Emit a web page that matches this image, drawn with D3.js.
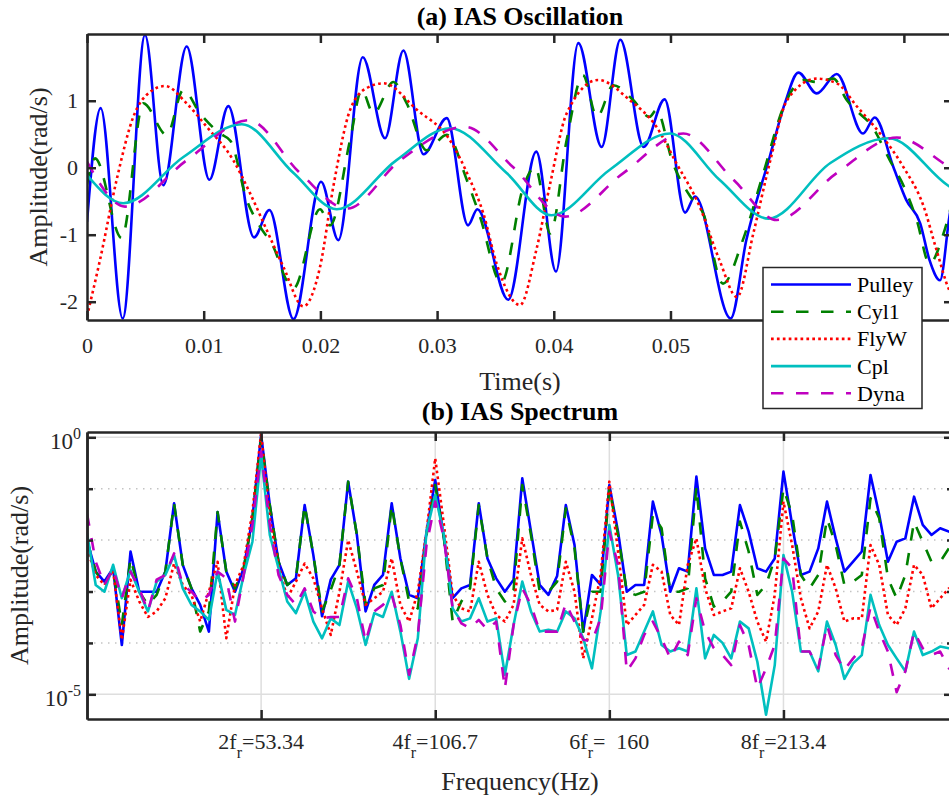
<!DOCTYPE html>
<html><head><meta charset="utf-8">
<script src="https://cdn.jsdelivr.net/npm/d3@7"></script>
<style>
body{margin:0;background:#fff;}
text{font-family:"Liberation Serif","Times New Roman",serif;}
</style>
</head><body>
<svg id="c" width="949" height="801"></svg>
<script>
// ---------------- DATA ----------------
const seriesNames = ["Pulley", "Cyl1", "FlyW", "Cpl", "Dyna"];

// (a) IAS Oscillation : time (ms) / amplitude (rad/s), key points
const pulleyTms = [0,1.17,3.06,4.97,6.54,8.54,10.49,12.11,14.31,15.63,17.69,20.06,21.54,23.63,25.54,27.11,28.83,30.83,32.65,33.45,36.1,38.5,40.19,42.1,44.1,45.7,47.7,49.5,51.25,52.1,55.16,56.5,58.5,59.8,60.96,62.53,64.25,66.5,67.5,69.1,70.2,71.4,72.2,73.1,73.9,74.3];
const pulleyV   = [-0.81,0.89,-2.25,1.98,-0.26,1.81,-0.18,0.92,-1.04,-0.63,-2.26,-0.21,-1.08,1.65,0.44,1.75,0.20,0.74,-0.86,-0.62,-1.97,0.24,-1.55,1.86,0.31,1.91,0.31,1.02,-0.67,-0.43,-2.25,-1.08,0.16,0.96,1.42,1.11,1.40,0.51,0.75,0.01,-0.48,-0.83,-1.38,-1.68,-0.73,-0.30];

const cyl1Tms = [0,0.69,2.97,4.83,6.83,8.26,9.69,11.4,12.3,13.69,14.83,15.97,17.1,17.69,19.97,20.83,22.54,23.54,24.54,26.26,27.4,29.11,30.83,32.54,33.68,35.5,37.4,38.4,39.7,41.1,42.5,43.7,45.1,46.8,48.2,48.8,50.2,51.7,52.8,54.5,56.2,57.96,59.7,61.4,62.5,63.96,65.1,66.2,67.1,68.8,70.0,71.1,72.2,73.4,74.3];
const cyl1V   = [-0.25,0.14,-1.05,0.96,0.49,1.16,0.81,0.51,0.40,-0.48,-0.88,-1.18,-1.68,-1.80,-0.62,-0.86,0.41,1.16,0.81,1.28,0.96,0.26,0.49,-0.18,-0.73,-1.72,-0.28,0.01,-0.98,0.41,1.38,0.76,1.23,1.01,0.76,0.86,0.07,-0.43,-0.68,-1.73,-1.08,-0.08,0.91,1.31,1.28,1.33,1.01,0.81,0.66,0.11,-0.28,-0.78,-1.43,-0.98,-0.40];

const flywTms = [0,1.11,2.54,3.97,5.4,6.69,8.54,10.26,12.54,13.97,15.4,16.83,18.54,19.97,21.11,22.54,23.97,25.4,28.3,31.1,32.82,33.96,35.1,37.1,38.5,39.7,41.1,43.8,46.5,48.8,50.5,52.5,54.2,55.7,57.1,58.5,60.0,62.5,64.25,66.0,67.96,69.96,71.7,72.8,73.9,74.3];
const flywV   = [-2.22,-1.38,-0.18,0.76,1.13,1.22,0.96,0.61,0.11,-0.38,-0.93,-1.48,-2.07,-1.48,-0.28,0.86,1.19,1.26,0.86,0.41,-0.18,-0.68,-1.43,-2.05,-1.23,-0.23,0.81,1.31,1.01,0.61,0.07,-0.58,-1.38,-1.93,-0.98,0.07,1.01,1.33,1.26,0.91,0.51,0.01,-0.58,-1.23,-1.83,-1.95];

const cplTms = [0,3.11,8.26,13.26,17.7,21.4,26.5,31.1,35.96,39.8,44.8,49.96,54.2,58.4,63.7,68.7,73.9,74.3];
const cplV   = [-0.11,-0.53,0.16,0.65,-0.08,-0.62,0.11,0.59,-0.08,-0.71,-0.03,0.51,-0.18,-0.76,0.07,0.44,-0.28,-0.32];

const dynaTms = [0,3.26,8.54,13.83,18.26,22.26,26.83,32.4,36.5,40.96,45.96,51.1,55.4,59.1,64.25,69.4,73.9,74.3];
const dynaV   = [0.09,-0.58,0.11,0.71,-0.08,-0.61,0.11,0.61,0.01,-0.73,-0.08,0.51,-0.18,-0.78,-0.08,0.45,0.01,-0.03];

const timeTicks = [0, 0.01, 0.02, 0.03, 0.04, 0.05, 0.06, 0.07];
const timeTickLabels = ["0", "0.01", "0.02", "0.03", "0.04", "0.05", "", ""]; // 0.06/0.07 hidden by legend
const ampTicks = [-2, -1, 0, 1];

// (b) IAS Spectrum : frequency grid (Hz), step fr/10
const fr = 26.67;
const freqStep = 2.667;
const pulleySpec = [0.0100,0.00244,0.00156,0.00283,0.000091,0.0060,0.00099,0.00099,0.00099,0.00244,
0.052,0.0033,0.00115,0.00055,0.000166,0.035,0.00244,0.00099,0.00283,0.0265,
1.11,0.048,0.0038,0.00134,0.00181,0.048,0.0051,0.00033,0.0017,0.0033,
0.137,0.0126,0.00041,0.00134,0.0021,0.052,0.0044,0.00086,0.00074,0.0146,
0.148,0.0108,0.00074,0.00115,0.00134,0.052,0.0044,0.0018,0.00099,0.0017,
0.159,0.0146,0.00134,0.00086,0.0020,0.048,0.0080,0.000166,0.0021,0.00134,
0.118,0.0146,0.00099,0.00134,0.00134,0.056,0.0126,0.00099,0.00283,0.00244,
0.172,0.0069,0.0021,0.0021,0.00244,0.048,0.0146,0.00283,0.00244,0.0044,
0.215,0.0197,0.0021,0.00244,0.0069,0.056,0.0108,0.00244,0.0038,0.0060,
0.185,0.031,0.0038,0.0093,0.0108,0.070,0.0197,0.0126,0.017,0.0146,0.0146];
const cyl1Spec = [0.0100,0.00244,0.00134,0.00283,0.000223,0.0044,0.00099,0.00055,0.00086,0.00244,
0.052,0.0033,0.00115,0.000166,0.00041,0.035,0.00244,0.00115,0.00283,0.0265,
0.96,0.048,0.0038,0.00134,0.00181,0.048,0.0051,0.00041,0.00107,0.0033,
0.137,0.0126,0.00055,0.00115,0.00134,0.048,0.0044,0.00064,0.00047,0.0126,
0.118,0.0108,0.00026,0.00064,0.00115,0.048,0.0044,0.00115,0.00064,0.00107,
0.118,0.0126,0.00099,0.00099,0.00156,0.0416,0.0069,0.000166,0.00099,0.00099,
0.102,0.0126,0.00099,0.00086,0.00099,0.031,0.017,0.00099,0.00099,0.00115,
0.11,0.00181,0.00051,0.00064,0.00099,0.0229,0.0060,0.00086,0.00134,0.0044,
0.102,0.031,0.0021,0.00115,0.0021,0.0265,0.0080,0.00134,0.00156,0.0021,
0.065,0.0265,0.00181,0.00074,0.0021,0.0229,0.0093,0.0038,0.0038,0.0069,0.0080];
const flywSpec = [0.0069,0.0021,0.00134,0.0026,0.000115,0.0017,0.00064,0.00032,0.00041,0.00074,
0.0035,0.00134,0.00086,0.00026,0.00099,0.0038,0.000123,0.00134,0.0033,0.036,
1.2,0.0265,0.0033,0.00074,0.00156,0.0035,0.0018,0.00047,0.000143,0.00099,
0.0100,0.00244,0.00055,0.00074,0.00099,0.0044,0.00055,0.00026,0.00099,0.0146,
0.39,0.0197,0.00086,0.00047,0.00041,0.0038,0.00086,0.00035,0.00026,0.00055,
0.0108,0.0021,0.00055,0.00041,0.00044,0.0038,0.00099,0.00005,0.0003,0.0021,
0.137,0.006,0.000223,0.00035,0.00055,0.0033,0.00244,0.00035,0.000223,0.0033,
0.0108,0.00115,0.00035,0.00041,0.00047,0.00283,0.00099,0.00026,0.000106,0.00086,
0.056,0.008,0.00074,0.000192,0.00041,0.0033,0.00115,0.00026,0.0003,0.0003,
0.008,0.0033,0.00035,0.000223,0.00047,0.0033,0.0021,0.00047,0.00074,0.00115,0.00134];
const cplSpec = [0.0136,0.00134,0.00099,0.0033,0.00074,0.0026,0.00099,0.00041,0.00156,0.0021,
0.0051,0.00115,0.00055,0.00041,0.00028,0.00244,0.00044,0.00035,0.0021,0.0093,
0.45,0.0126,0.00283,0.00064,0.00038,0.00099,0.00026,0.000123,0.0003,0.000223,
0.00156,0.00047,0.000091,0.00038,0.00032,0.00099,0.000166,0.00002,0.000123,0.0146,
0.0755,0.0126,0.00047,0.00026,0.0003,0.00074,0.00026,0.0003,0.000024,0.000223,
0.00156,0.00041,0.000166,0.00018,0.000166,0.00041,0.0003,0.000123,0.000032,0.00041,
0.0197,0.0021,0.000058,0.000068,0.000166,0.00041,0.000091,0.000068,0.000079,0.000068,
0.00115,0.00005,0.000143,0.0001,0.00005,0.00026,0.000192,0.000043,0.000004,0.000037,
0.0051,0.00099,0.000068,0.000068,0.000028,0.00026,0.000091,0.00002,0.00004,0.000058,
0.00086,0.000223,0.000091,0.00005,0.000028,0.000166,0.000058,0.000068,0.000085,0.000079,0.000079];
const dynaSpec = [0.033,0.0038,0.00134,0.00283,0.00074,0.00244,0.00115,0.00041,0.0017,0.0021,
0.0055,0.00134,0.00099,0.00064,0.00086,0.00244,0.0018,0.00026,0.0021,0.0197,
0.53,0.0197,0.0021,0.00086,0.00055,0.00115,0.00041,0.0003,0.00032,0.00032,
0.0018,0.00074,0.000106,0.00041,0.00055,0.00086,0.000223,0.000024,0.000143,0.008,
0.056,0.0108,0.00047,0.00024,0.000192,0.00028,0.00018,0.00026,0.000013,0.000223,
0.00115,0.00055,0.000166,0.000166,0.000166,0.00059,0.00026,0.000115,0.000106,0.0003,
0.0146,0.0033,0.000028,0.00005,0.000143,0.00026,0.000123,0.00005,0.000106,0.000058,
0.00074,0.000166,0.000079,0.000058,0.000037,0.000223,0.000091,0.000013,0.000032,0.000091,
0.0044,0.00283,0.000068,0.000068,0.000032,0.000223,0.000058,0.00003,0.00005,0.000079,
0.0005,0.000166,0.000068,0.000011,0.000028,0.000166,0.000079,0.000058,0.000068,0.000032,0.000037];

const freqTickMult = [2, 4, 6, 8];
const freqTickText = ["53.34", "106.7", "  160", "213.4"];
const specMajorTicks = [1, 1e-5];
const specMinorTicks = [1e-1, 1e-2, 1e-3, 1e-4];

// ---------------- DRAW ----------------
const svg = d3.select("#c");
const L = 87, R = 953;
const T1 = 34, B1 = 320, T2 = 432, B2 = 719;
const AX = "#262626";
const SERIF = '"Liberation Serif","Times New Roman",serif';

const styles = [
  {color: "#0000ff", dash: null},
  {color: "#008000", dash: "12.5,12.5"},
  {color: "#ff0000", dash: "2.7,3.2"},
  {color: "#00bfbf", dash: null},
  {color: "#bf00bf", dash: "12.5,12.5"}
];
const timeData = [[pulleyTms, pulleyV], [cyl1Tms, cyl1V], [flywTms, flywV], [cplTms, cplV], [dynaTms, dynaV]];
const specData = [pulleySpec, cyl1Spec, flywSpec, cplSpec, dynaSpec];

const defs = svg.append("defs");
defs.append("clipPath").attr("id", "clipT").append("rect").attr("x", L).attr("y", T1).attr("width", R - L).attr("height", B1 - T1);
defs.append("clipPath").attr("id", "clipB").append("rect").attr("x", L).attr("y", T2).attr("width", R - L).attr("height", B2 - T2);

function styleAxis(g) {
  g.select(".domain").attr("stroke", AX).attr("stroke-width", 2.5);
  g.selectAll(".tick line").attr("stroke", AX).attr("stroke-width", 2.5);
  g.selectAll(".tick text").attr("fill", AX).style("font-family", SERIF).style("font-size", "22px");
}

// ===== (a) =====
const xT = d3.scaleLinear().domain([0, 0.07421]).range([L, R]);
const yT = d3.scaleLinear().domain([-2.273, 1.996]).range([B1, T1]);

svg.append("rect").attr("x", L).attr("y", T1).attr("width", R - L).attr("height", B1 - T1).attr("fill", "#fff");

const lineT = d3.line().x(d => xT(d[0] / 1000)).y(d => yT(d[1])).curve(d3.curveMonotoneX);
const gT = svg.append("g").attr("clip-path", "url(#clipT)");
timeData.forEach((s, i) => {
  gT.append("path").datum(d3.zip(s[0], s[1])).attr("d", lineT)
    .attr("fill", "none").attr("stroke", styles[i].color).attr("stroke-width", 2.6)
    .attr("stroke-dasharray", styles[i].dash);
});

svg.append("g").attr("transform", `translate(0,${B1})`)
  .call(d3.axisBottom(xT).tickValues(timeTicks).tickFormat((d, i) => timeTickLabels[i]).tickSizeInner(-9).tickSizeOuter(0))
  .call(styleAxis).call(g => g.selectAll(".tick text").attr("y", 33).attr("dy", 0));
svg.append("g").attr("transform", `translate(0,${T1})`)
  .call(d3.axisTop(xT).tickValues(timeTicks).tickFormat("").tickSizeInner(-9).tickSizeOuter(0)).call(styleAxis);
svg.append("g").attr("transform", `translate(${L},0)`)
  .call(d3.axisLeft(yT).tickValues(ampTicks).tickFormat(d => String(d)).tickSizeInner(-9).tickSizeOuter(0).tickPadding(9)).call(styleAxis);
svg.append("g").attr("transform", `translate(${R},0)`)
  .call(d3.axisRight(yT).tickValues(ampTicks).tickFormat("").tickSizeInner(-9).tickSizeOuter(0)).call(styleAxis);

svg.append("text").attr("x", (L + R) / 2).attr("y", 25).attr("text-anchor", "middle")
  .style("font-size", "26px").style("font-weight", "bold").text("(a) IAS Oscillation");
svg.append("text").attr("x", (L + R) / 2).attr("y", 390).attr("text-anchor", "middle")
  .attr("fill", AX).style("font-size", "26px").text("Time(s)");
svg.append("text").attr("transform", `translate(46.5,${(T1 + B1) / 2}) rotate(-90)`).attr("text-anchor", "middle")
  .attr("fill", AX).style("font-size", "26px").text("Amplitude(rad/s)");

// ===== (b) =====
const freq = specData[0].map((_, i) => i * freqStep);
const xB = d3.scaleLinear().domain([0, 265.3]).range([L, R]);
const yB = d3.scaleLog().domain([3.31e-6, 1.268]).range([B2, T2]);
const freqTicks = freqTickMult.map(m => m * fr);

svg.append("rect").attr("x", L).attr("y", T2).attr("width", R - L).attr("height", B2 - T2).attr("fill", "#fff");
const grid = svg.append("g");
grid.selectAll("line.vx").data(freqTicks).join("line")
  .attr("x1", d => xB(d)).attr("x2", d => xB(d)).attr("y1", T2).attr("y2", B2)
  .attr("stroke", "#dedede").attr("stroke-width", 1.5);
grid.selectAll("line.hmaj").data(specMajorTicks).join("line").attr("class", "hmaj")
  .attr("x1", L).attr("x2", R).attr("y1", d => yB(d)).attr("y2", d => yB(d))
  .attr("stroke", "#dedede").attr("stroke-width", 1.5);
grid.selectAll("line.hmin").data(specMinorTicks).join("line").attr("class", "hmin")
  .attr("x1", L).attr("x2", R).attr("y1", d => yB(d)).attr("y2", d => yB(d))
  .attr("stroke", "#c4c4c4").attr("stroke-width", 1.5).attr("stroke-dasharray", "1.5,5.5");

const lineB = d3.line().x((d, i) => xB(freq[i])).y(d => yB(d));
const gB = svg.append("g").attr("clip-path", "url(#clipB)");
specData.forEach((s, i) => {
  gB.append("path").datum(s).attr("d", lineB)
    .attr("fill", "none").attr("stroke", styles[i].color).attr("stroke-width", 2.6)
    .attr("stroke-linejoin", "round")
    .attr("stroke-dasharray", styles[i].dash);
});

svg.append("g").attr("transform", `translate(0,${B2})`)
  .call(d3.axisBottom(xB).tickValues(freqTicks).tickFormat("").tickSizeInner(-9).tickSizeOuter(0)).call(styleAxis);
svg.append("g").attr("transform", `translate(0,${T2})`)
  .call(d3.axisTop(xB).tickValues(freqTicks).tickFormat("").tickSizeInner(-9).tickSizeOuter(0)).call(styleAxis);
svg.append("g").attr("transform", `translate(${L},0)`)
  .call(d3.axisLeft(yB).tickValues(specMajorTicks).tickFormat("").tickSizeInner(-9).tickSizeOuter(0)).call(styleAxis);
svg.append("g").attr("transform", `translate(${L},0)`)
  .call(d3.axisLeft(yB).tickValues(specMinorTicks).tickFormat("").tickSizeInner(-6).tickSizeOuter(0)).call(styleAxis);
svg.append("g").attr("transform", `translate(${R},0)`)
  .call(d3.axisRight(yB).tickValues(specMajorTicks).tickFormat("").tickSizeInner(-9).tickSizeOuter(0)).call(styleAxis);
svg.append("g").attr("transform", `translate(${R},0)`)
  .call(d3.axisRight(yB).tickValues(specMinorTicks).tickFormat("").tickSizeInner(-6).tickSizeOuter(0)).call(styleAxis);

// frequency tick labels n f_r = value
freqTicks.forEach((f, i) => {
  const t = svg.append("text").attr("x", xB(f)).attr("y", 749).attr("text-anchor", "middle")
    .attr("fill", AX).style("font-size", "22px").style("white-space", "pre");
  t.append("tspan").text(freqTickMult[i] + "f");
  t.append("tspan").attr("dy", 9).style("font-size", "16px").text("r");
  t.append("tspan").attr("dy", -9).text("=" + freqTickText[i]);
});
// log tick labels
[[1, "0"], [1e-5, "-5"]].forEach(([v, e]) => {
  const t = svg.append("text").attr("x", 81).attr("y", yB(v) + 12).attr("text-anchor", "end")
    .attr("fill", AX).style("font-size", "23px");
  t.append("tspan").text("10");
  t.append("tspan").attr("dy", -10).style("font-size", "16px").text(e);
});

svg.append("text").attr("x", (L + R) / 2).attr("y", 420).attr("text-anchor", "middle")
  .style("font-size", "26px").style("font-weight", "bold").text("(b) IAS Spectrum");
svg.append("text").attr("x", (L + R) / 2).attr("y", 790).attr("text-anchor", "middle")
  .attr("fill", AX).style("font-size", "26px").text("Frequency(Hz)");
svg.append("text").attr("transform", `translate(28,${(T2 + B2) / 2}) rotate(-90)`).attr("text-anchor", "middle")
  .attr("fill", AX).style("font-size", "26px").text("Amplitude(rad/s)");

// ===== legend =====
const lg = svg.append("g");
lg.append("rect").attr("x", 763).attr("y", 267.5).attr("width", 159).attr("height", 141)
  .attr("fill", "#fff").attr("stroke", AX).attr("stroke-width", 1.5);
seriesNames.forEach((n, i) => {
  const cy = 284.5 + i * 27.2;
  lg.append("line").attr("x1", 771).attr("x2", 851).attr("y1", cy).attr("y2", cy)
    .attr("stroke", styles[i].color).attr("stroke-width", 2.6).attr("stroke-dasharray", styles[i].dash);
  lg.append("text").attr("x", 857).attr("y", cy + 7.5).attr("fill", "#000").style("font-size", "22px").text(n);
});
</script>
</body></html>
